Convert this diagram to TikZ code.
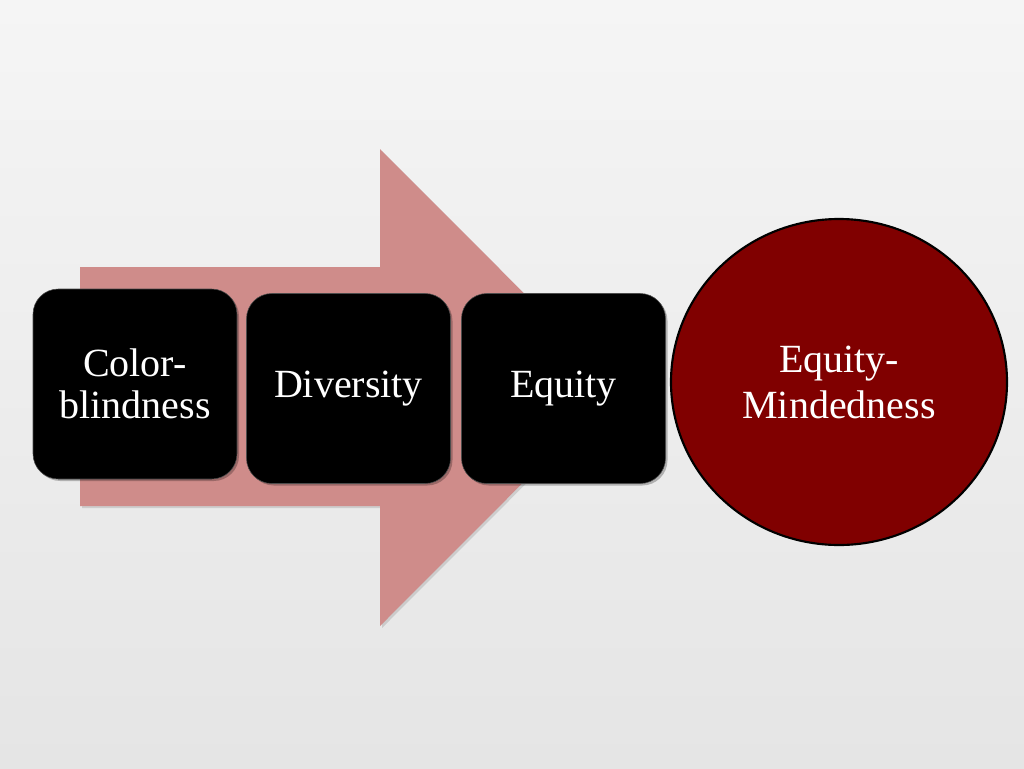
\documentclass[tikz,border=0pt]{standalone}
\usepackage{fontspec}
\setmainfont{Liberation Serif}
\usetikzlibrary{shapes.geometric,shadows}
\definecolor{bgtop}{RGB}{245,245,245}
\definecolor{bgbot}{RGB}{229,229,229}
\definecolor{arrowpink}{RGB}{207,140,138}
\definecolor{maroon}{RGB}{128,0,0}
\tikzset{
  stagebox/.style={rectangle, rounded corners=19pt, fill=black, draw=black!70, line width=0.4pt,
    minimum width=153pt, minimum height=142.5pt, text=white, align=center,
    font=\fontsize{30}{31.5}\selectfont, inner sep=0pt,
    drop shadow={shadow xshift=1.5pt, shadow yshift=-1.5pt, opacity=0.25, fill=black}},
  goalcircle/.style={ellipse, fill=maroon, draw=black, line width=1.6pt,
    minimum width=252pt, minimum height=244.5pt, text=white, align=center,
    font=\fontsize{30}{34.5}\selectfont, inner sep=0pt}
}
\begin{document}
\begin{tikzpicture}[x=0.75pt,y=-0.75pt]
  \useasboundingbox (0,0) rectangle (1024,768);
  \shade[top color=bgtop, bottom color=bgbot] (0,0) rectangle (1024,768);
  % big arrow
  \fill[black, opacity=0.12] (82,269) -- (382,269) -- (382,151) -- (620,389.5) -- (382,628) -- (382,508) -- (82,508) -- cycle;
  \fill[arrowpink] (80,267) -- (380,267) -- (380,149) -- (618,387.5) -- (380,626) -- (380,506) -- (80,506) -- cycle;
  % stages
  \node[stagebox] (a) at (135,384) {Color-\\blindness};
  \node[stagebox] (b) at (348.5,388.5) {Diversity};
  \node[stagebox] (c) at (563.5,388.5) {Equity};
  \node[goalcircle] (d) at (839,382) {Equity-\\Mindedness};
\end{tikzpicture}
\end{document}
